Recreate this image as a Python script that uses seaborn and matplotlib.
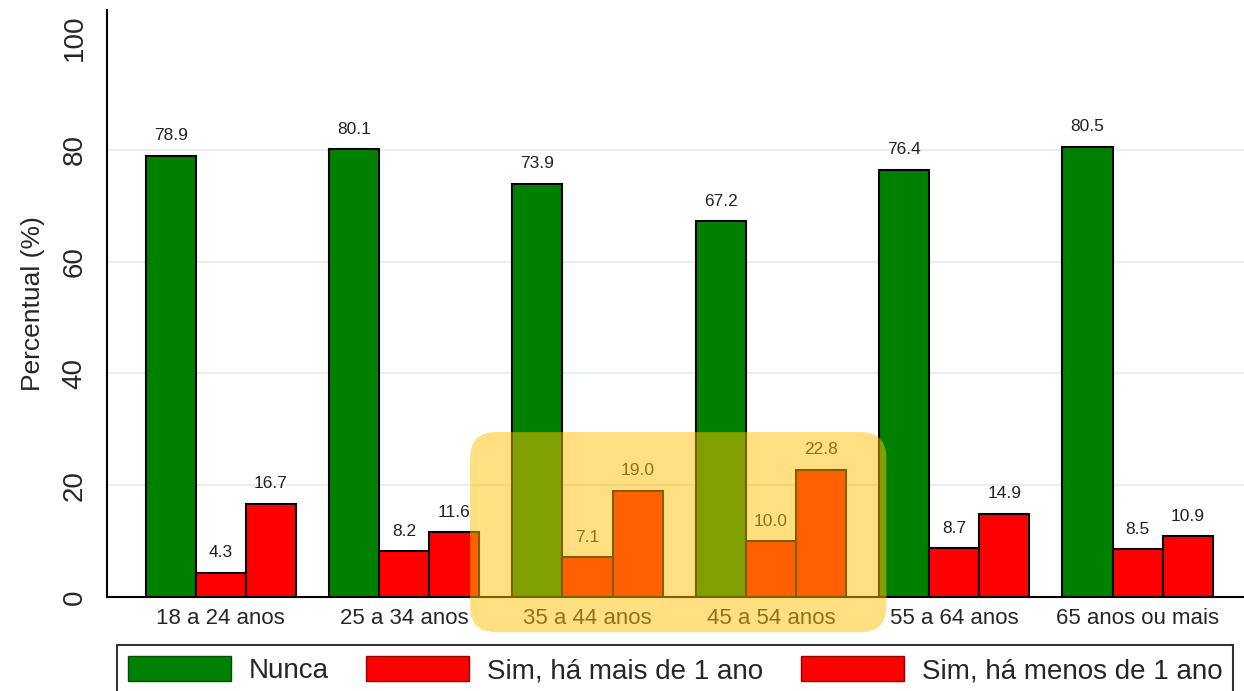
import numpy as np
import pandas as pd
import matplotlib
matplotlib.use("Agg")
import matplotlib.pyplot as plt
from matplotlib.patches import Patch, FancyBboxPatch
import seaborn as sns

# Data
faixas = ["18 a 24 anos", "25 a 34 anos", "35 a 44 anos",
          "45 a 54 anos", "55 a 64 anos", "65 anos ou mais"]
grupos = ["Nunca", "Sim, há mais de 1 ano", "Sim, há menos de 1 ano"]
nunca = [78.9, 80.1, 73.9, 67.2, 76.4, 80.5]
mais_1_ano = [4.3, 8.2, 7.1, 10.0, 8.7, 8.5]
menos_1_ano = [16.7, 11.6, 19.0, 22.8, 14.9, 10.9]
destaque = ["35 a 44 anos", "45 a 54 anos"]

df = pd.DataFrame({
    "faixa": faixas * 3,
    "grupo": np.repeat(grupos, len(faixas)),
    "pct": nunca + mais_1_ano + menos_1_ano,
})

sns.set_style("white")
plt.rcParams["font.family"] = ["Liberation Sans", "DejaVu Sans"]

cores = ["#008000", "#FF0000", "#FF0000"]
W, H = 1244, 691
fig = plt.figure(figsize=(W / 100, H / 100), dpi=100)
ax = fig.add_axes([107 / W, 1 - 597 / H, 1 - 107 / W, (597 - 10) / H])

sns.barplot(data=df, x="faixa", y="pct", hue="grupo", hue_order=grupos,
            palette=cores, saturation=1, width=0.82, edgecolor="black",
            linewidth=1.5, legend=False, ax=ax)

for cont in ax.containers:
    ax.bar_label(cont, fmt="%.1f", padding=9, fontsize=12.5, color="#222222")

ax.set_ylim(0, 105)
ax.set_xlim(-0.62, 5.58)
ax.set_yticks([0, 20, 40, 60, 80, 100])
for v in [20, 40, 60, 80]:
    ax.axhline(v, color="#e6eff1", lw=1.5, zorder=0)
ax.set_axisbelow(True)

ax.set_xlabel("")
ax.set_ylabel("Percentual (%)", fontsize=19, labelpad=12)
ax.tick_params(axis="y", labelsize=20, length=7, width=1.2, pad=7, rotation=90)
for t in ax.get_yticklabels():
    t.set_va("center")
ax.tick_params(axis="x", labelsize=16, length=0, pad=8)

sns.despine(ax=ax, top=True, right=True)
for s in ["left", "bottom"]:
    ax.spines[s].set_linewidth(1.5)
    ax.spines[s].set_color("black")

# yellow highlight box over the two middle age groups
i0 = faixas.index(destaque[0])
i1 = faixas.index(destaque[1])
fig.canvas.draw()
(x0, y0) = ax.transData.transform((i0 - 0.64, -6.3))
(x1, y1) = ax.transData.transform((i1 + 0.63, 29.5))
box = FancyBboxPatch((x0, y0), x1 - x0, y1 - y0,
                     boxstyle="round,pad=0,rounding_size=26",
                     transform=None, facecolor="#FFC000", edgecolor="none",
                     alpha=0.5, zorder=10, clip_on=False)
ax.add_artist(box)

handles = [Patch(facecolor=c, edgecolor=e, linewidth=1)
           for c, e in zip(cores, ["#005000", "#900000", "#900000"])]
leg = fig.legend(handles, grupos, loc="upper left", ncol=3,
                 bbox_to_anchor=(117 / W, 1 - 645 / H),
                 borderaxespad=0, fontsize=20, handlelength=3.7,
                 handleheight=1.0, frameon=True, fancybox=False,
                 edgecolor="black", borderpad=0.4, handletextpad=0.65,
                 columnspacing=1.35)
leg.get_frame().set_linewidth(1.5)

fig.savefig("out.png", dpi=100)
